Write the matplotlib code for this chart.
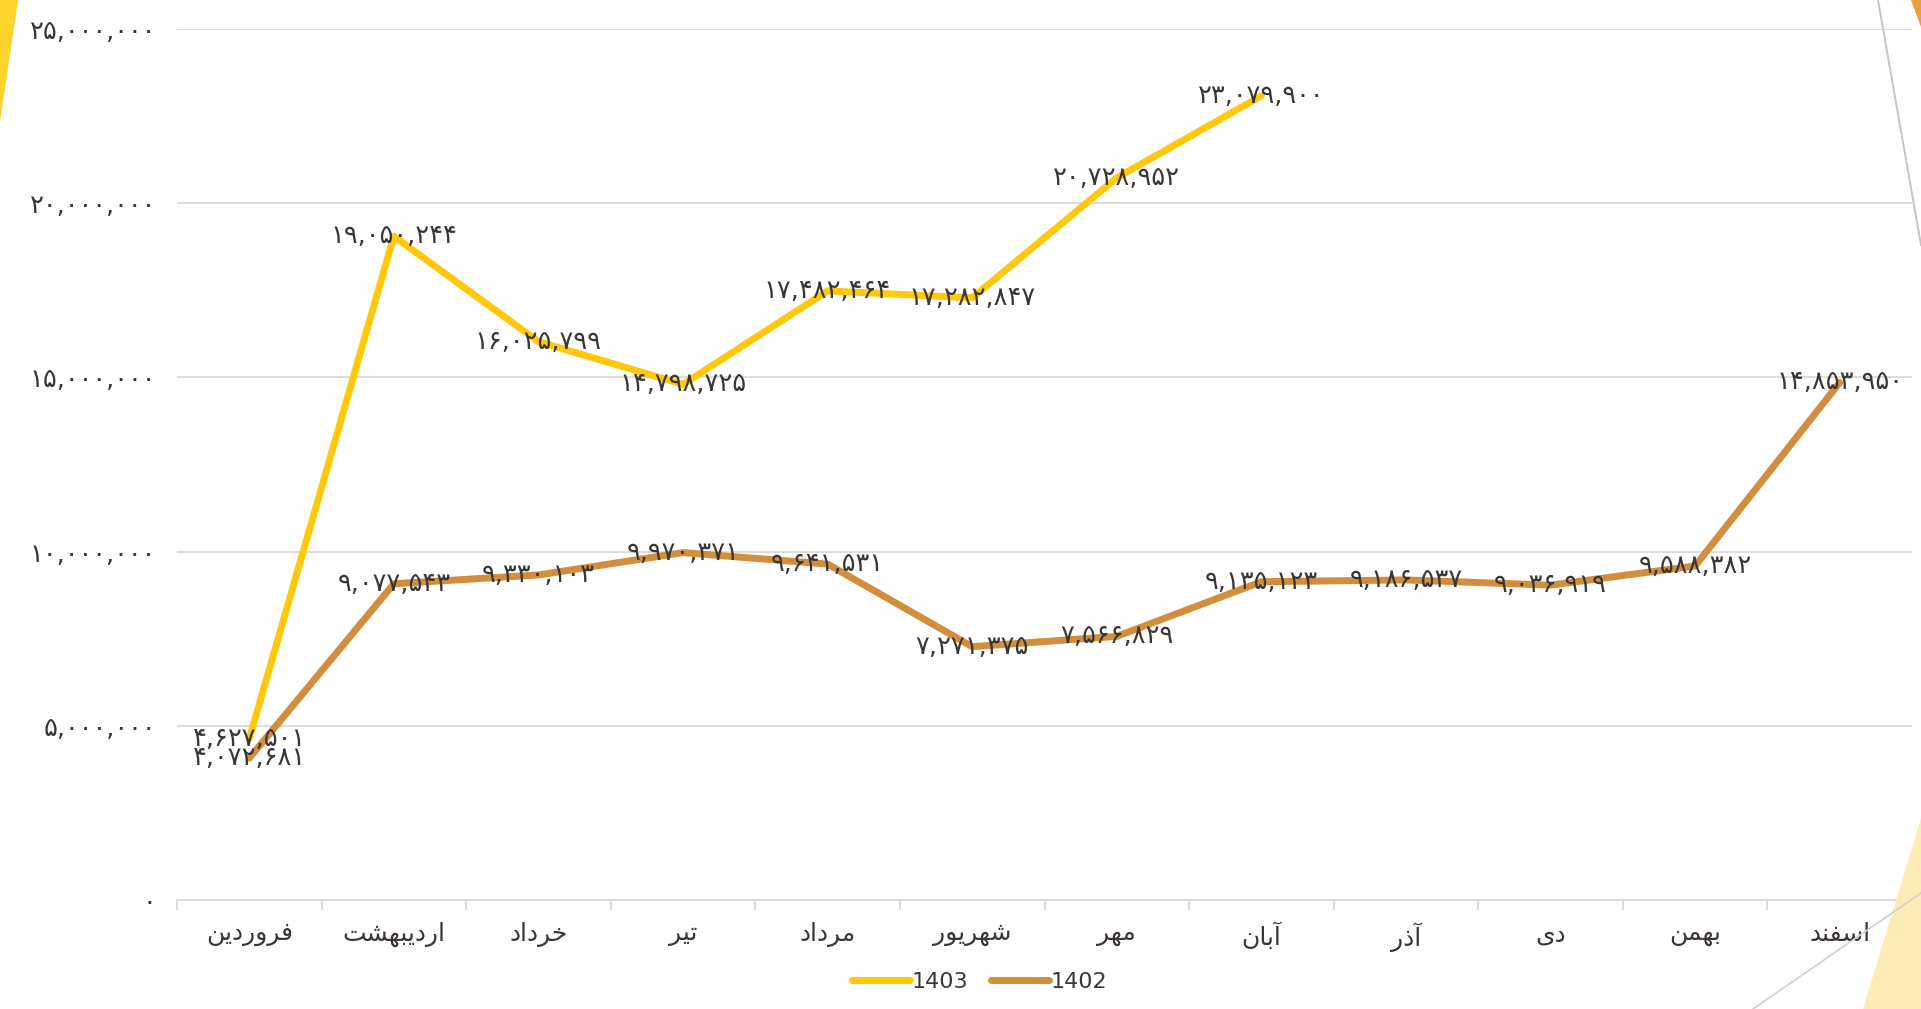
import unicodedata
import matplotlib
matplotlib.use("Agg")
import matplotlib.pyplot as plt
from matplotlib.patches import Polygon
from matplotlib.lines import Line2D

# ---------------- data ----------------
months = ["فروردین", "اردیبهشت", "خرداد", "تیر", "مرداد", "شهریور",
          "مهر", "آبان", "آذر", "دی", "بهمن", "اسفند"]
series_1403 = [4627501, 19050244, 16025799, 14798725, 17482464, 17282847,
               20728952, 23079900]
series_1402 = [4072681, 9077543, 9330103, 9970371, 9641531, 7271375,
               7566829, 9135123, 9186537, 9036919, 9588382, 14853950]
yticks = [0, 5000000, 10000000, 15000000, 20000000, 25000000]
legend_labels = ["1403", "1402"]

# ---------------- persian helpers ----------------
FORMS = {  # isolated, final, initial, medial
    "\u0627": ("\uFE8D", "\uFE8E", None, None),
    "\u0622": ("\uFE81", "\uFE82", None, None),
    "\u0628": ("\uFE8F", "\uFE90", "\uFE91", "\uFE92"),
    "\u062A": ("\uFE95", "\uFE96", "\uFE97", "\uFE98"),
    "\u062E": ("\uFEA5", "\uFEA6", "\uFEA7", "\uFEA8"),
    "\u062F": ("\uFEA9", "\uFEAA", None, None),
    "\u0630": ("\uFEAB", "\uFEAC", None, None),
    "\u0631": ("\uFEAD", "\uFEAE", None, None),
    "\u0633": ("\uFEB1", "\uFEB2", "\uFEB3", "\uFEB4"),
    "\u0634": ("\uFEB5", "\uFEB6", "\uFEB7", "\uFEB8"),
    "\u0641": ("\uFED1", "\uFED2", "\uFED3", "\uFED4"),
    "\u0645": ("\uFEE1", "\uFEE2", "\uFEE3", "\uFEE4"),
    "\u0646": ("\uFEE5", "\uFEE6", "\uFEE7", "\uFEE8"),
    "\u0647": ("\uFEE9", "\uFEEA", "\uFEEB", "\uFEEC"),
    "\u0648": ("\uFEED", "\uFEEE", None, None),
    "\u06CC": ("\uFBFC", "\uFBFD", "\uFBFE", "\uFBFF"),
    "\u064A": ("\uFBFC", "\uFBFD", "\uFBFE", "\uFBFF"),
}


def shape(word):
    word = unicodedata.normalize("NFC", word)
    out = []
    n = len(word)
    for i, ch in enumerate(word):
        f = FORMS.get(ch)
        if f is None:
            out.append(ch)
            continue
        prev = word[i - 1] if i > 0 else None
        nxt = word[i + 1] if i < n - 1 else None
        join_prev = prev is not None and prev in FORMS and FORMS[prev][2] is not None
        join_next = nxt is not None and nxt in FORMS and f[2] is not None
        if join_prev and join_next:
            out.append(f[3])
        elif join_prev:
            out.append(f[1])
        elif join_next:
            out.append(f[2])
        else:
            out.append(f[0])
    return "".join(reversed(out))


DIGITS = str.maketrans("0123456789", "۰۱۲۳۴۵۶۷۸۹")


def fa_num(v):
    return f"{v:,}".translate(DIGITS)


# ---------------- figure ----------------
plt.rcParams["font.family"] = ["DejaVu Sans"]
TEXT = "#3b3634"
GRID = "#e0dcd8"
C1403 = "#FFC80A"
C1402 = "#D28D3D"
NUM_FS = 18.5

fig = plt.figure(figsize=(19.21, 10.09), dpi=100)
fig.patch.set_facecolor("white")

# decorative shapes (figure pixel coords, origin top-left)
W, H = 1921, 1009


def fpoly(pts, **kw):
    p = Polygon([(x / W, 1 - y / H) for x, y in pts], closed=True,
                transform=fig.transFigure, **kw)
    fig.patches.append(p)


def fline(p0, p1, **kw):
    l = Line2D([p0[0] / W, p1[0] / W], [1 - p0[1] / H, 1 - p1[1] / H],
               transform=fig.transFigure, **kw)
    fig.lines.append(l)


fpoly([(0, 0), (18, 0), (0, 122)], facecolor="#FDD22B", edgecolor="none")
fpoly([(1911, 0), (1921, 0), (1921, 27)], facecolor="#E5A042", edgecolor="none")
fpoly([(1863, 1009), (1921, 818), (1921, 1009)], facecolor="#FEECB6", edgecolor="none")
fline((1878, 0), (1921, 245), color="#c4c4c4", lw=1.4)
fline((1753, 1009), (1921, 893), color="#d0d0d0", lw=1.2)

ax = fig.add_axes([177 / W, 1 - 900 / H, (1912 - 177) / W, (900 - 29) / H])
ax.set_facecolor("none")

x = list(range(len(months)))
ax.plot(x[:len(series_1403)], series_1403, color=C1403, lw=5,
        solid_joinstyle="round", solid_capstyle="round", zorder=3, label=legend_labels[0])
ax.plot(x, series_1402, color=C1402, lw=5,
        solid_joinstyle="round", solid_capstyle="round", zorder=4, label=legend_labels[1])

for xi, v in zip(x, series_1403):
    ax.text(xi, v, fa_num(v), ha="center", va="center", fontsize=NUM_FS,
            color=TEXT, zorder=6)
for xi, v in zip(x, series_1402):
    ax.text(xi, v, fa_num(v), ha="center", va="center", fontsize=NUM_FS,
            color=TEXT, zorder=6)

ax.set_xlim(-0.5, len(months) - 0.5)
ax.set_ylim(0, 25000000)
ax.set_yticks(yticks)
ax.set_yticklabels([fa_num(t) for t in yticks], fontsize=NUM_FS, color=TEXT)
ax.yaxis.grid(True, color=GRID, lw=1.4, zorder=0)
ax.tick_params(axis="y", length=0, pad=15)

ax.set_xticks(x)
ax.set_xticklabels([shape(m) for m in months], fontsize=18, color=TEXT)
ax.set_xticks([i - 0.5 for i in range(len(months) + 1)], minor=True)
ax.tick_params(axis="x", which="major", length=0, pad=16)
ax.tick_params(axis="x", which="minor", length=7, width=1.4, color=GRID)

for s in ["top", "right", "left"]:
    ax.spines[s].set_visible(False)
ax.spines["bottom"].set_color(GRID)
ax.spines["bottom"].set_linewidth(1.4)
ax.set_axisbelow(True)

leg = fig.legend(loc="center", bbox_to_anchor=(0.51, 1 - 982 / H), ncol=2,
                 frameon=False, fontsize=16, handlelength=2.6, handletextpad=0.1,
                 columnspacing=1.0)
for t in leg.get_texts():
    t.set_color(TEXT)

fig.savefig("out.png", dpi=100, facecolor="white")
